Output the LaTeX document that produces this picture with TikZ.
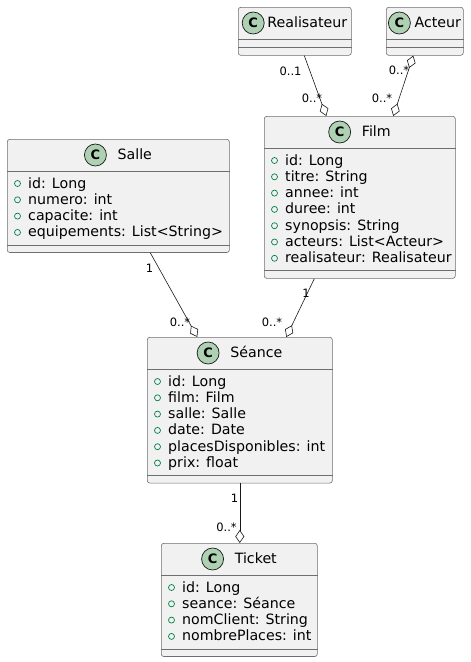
\documentclass[tikz,border=0pt]{standalone}
\usepackage{fontspec}
\setmainfont{DejaVu Sans}
\usetikzlibrary{arrows.meta,calc}

\definecolor{boxfill}{HTML}{F1F1F1}
\definecolor{boxline}{HTML}{6E6E6E}
\definecolor{linkline}{HTML}{181818}
\definecolor{iconfill}{HTML}{ADD1B2}
\definecolor{visgreen}{HTML}{038048}

\tikzset{
  classbox/.style={draw=boxline, fill=boxfill, line width=0.6pt, rounded corners=2.5pt, inner sep=0pt, anchor=north west},
  sepline/.style={draw=boxline, line width=0.6pt},
  classicon/.style={circle, draw=linkline, fill=iconfill, line width=0.7pt, minimum size=22pt, inner sep=0pt, font=\fontsize{13}{13}\selectfont\bfseries},
  classname/.style={inner sep=0pt, anchor=base, font=\fontsize{14.2}{16}\selectfont},
  field/.style={inner sep=0pt, anchor=base west, font=\fontsize{14.2}{16}\selectfont},
  vis/.style={draw=visgreen, line width=0.7pt},
  mult/.style={inner sep=0pt, font=\fontsize{11.5}{13}\selectfont},
  assoc/.style={draw=linkline, line width=0.6pt},
  agg/.style={-{Diamond[open, length=13pt, width=9pt]}},
  aggboth/.style={{Diamond[open, length=13pt, width=9pt]}-{Diamond[open, length=13pt, width=9pt]}},
}

% class box: [gap icon/name]{node}{x}{y}{width}{number of fields}{title}{fields}
\newcommand{\umlclass}[8][22]{%
  \pgfmathsetmacro{\clsh}{48+16.3*#6}
  \node[classbox, minimum width=#5pt, minimum height=\clsh pt] (#2) at (#3,#4) {};
  \draw[sepline] ([yshift=-32pt]#2.north west) -- ([yshift=-32pt]#2.north east);
  \draw[sepline] ([yshift=8pt]#2.south west) -- ([yshift=8pt]#2.south east);
  \node[classname] (#2-name) at ([xshift={(#1+11)/2}, yshift=-20.5pt]#2.north) {#7};
  \node[classicon] (#2-c) at ([xshift=-#1pt, yshift=4.5pt]#2-name.base west) {C};
  \ifnum#6>0
  \foreach \f [count=\k] in {#8} {
    \node[field] (#2-\k) at ([xshift=21pt, yshift={-49pt-16.3pt*(\k-1)}]#2.north west) {\f};
    \draw[vis] ([xshift=-10.5pt, yshift=4.5pt]#2-\k.base west) circle (3pt);
  }
  \fi
}

\begin{document}
\begin{tikzpicture}[x=1pt, y=-1pt]
    \fill[white] (0,0) rectangle (471,662);
    \useasboundingbox (0,0) rectangle (471,662);

    % Classes
    \umlclass[14]{realisateur}{238}{7}{113}{0}{Realisateur}{}
    \umlclass[15]{acteur}{386}{7}{77}{0}{Acteur}{}
    \umlclass{film}{264}{116}{191}{7}{Film}{id: Long, titre: String, annee: int, duree: int, synopsis: String, acteurs: List<Acteur>, realisateur: Realisateur}
    \umlclass{salle}{7}{139}{222}{4}{Salle}{id: Long, numero: int, capacite: int, equipements: List<String>}
    \umlclass{seance}{147}{337}{185}{6}{Séance}{id: Long, film: Film, salle: Salle, date: Date, placesDisponibles: int, prix: float}
    \umlclass{ticket}{161}{543}{156}{4}{Ticket}{id: Long, seance: Séance, nomClient: String, nombrePlaces: int}

    % Associations
    \draw[assoc, agg] ([xshift=9.5pt]realisateur.south) -- ([xshift=-33.5pt]film.north);
    \draw[assoc, aggboth] ([xshift=-11.5pt]acteur.south) -- ([xshift=33.5pt]film.north);
    \draw[assoc, agg] ([xshift=32pt]salle.south) -- ([xshift=-42.5pt]seance.north);
    \draw[assoc, agg] ([xshift=-45.5pt]film.south) -- ([xshift=46.5pt]seance.north);
    \draw[assoc, agg] (seance.south) -- (seance.south |- ticket.north);

    % Multiplicities
    \node[mult] (m-real) at (290.5,71) {0..1};
    \node[mult] (m-filmreal) at (312,98) {0..*};
    \node[mult] (m-acteur) at (399,70) {0..*};
    \node[mult] (m-filmact) at (382,98) {0..*};
    \node[mult] (m-salle) at (149.5,268) {1};
    \node[mult] (m-seancesalle) at (180,322) {0..*};
    \node[mult] (m-film) at (306,293) {1};
    \node[mult] (m-seancefilm) at (272,322) {0..*};
    \node[mult] (m-seance) at (234.5,498) {1};
    \node[mult] (m-ticket) at (226.5,527) {0..*};
\end{tikzpicture}
\end{document}
